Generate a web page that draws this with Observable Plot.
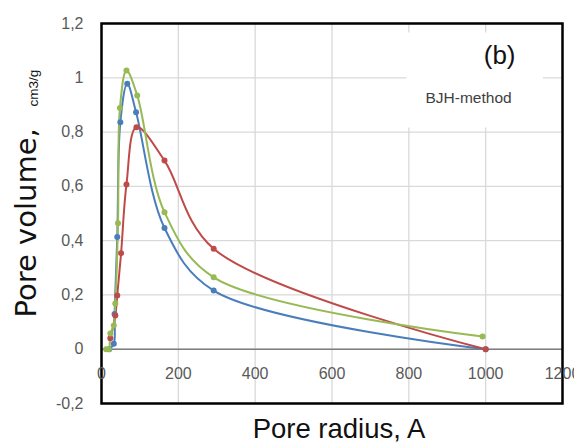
<!DOCTYPE html>
<html><head><meta charset="utf-8">
<script src="https://cdn.jsdelivr.net/npm/d3@7"></script>
<script src="https://cdn.jsdelivr.net/npm/@observablehq/plot@0.6"></script>
<style>body{margin:0;background:#fff}</style>
</head><body><div id="chart"></div>
<script>
// Pore radius (A) and pore volume (cm3/g) for the three samples
const radiusBlue = [20, 32, 34, 41, 49, 67, 90, 164, 292, 1000];
const volumeBlue = [0, 0.02, 0.13, 0.413, 0.836, 0.978, 0.873, 0.447, 0.216, 0];

const radiusRed = [23, 36, 41, 51, 65, 91, 164, 292, 1000];
const volumeRed = [0.04, 0.124, 0.198, 0.354, 0.607, 0.818, 0.695, 0.37, 0];

const radiusGreen = [12, 19, 23, 32, 36, 43, 48, 65, 93, 164, 292, 992];
const volumeGreen = [0, 0, 0.058, 0.087, 0.168, 0.464, 0.889, 1.027, 0.935, 0.505, 0.265, 0.047];

const xTicks = [0, 200, 400, 600, 800, 1000, 1200];
const yTicks = [-0.2, 0, 0.2, 0.4, 0.6, 0.8, 1, 1.2];

const seriesNames = ["Sample 1", "Sample 2", "Sample 3"];
const seriesColors = ["#4a7ebb", "#be4b48", "#98b954"];

const toRows = (xs, ys, s) => xs.map((x, i) => ({radius: x, volume: ys[i], series: s}));
const rows = [
  ...toRows(radiusBlue, volumeBlue, seriesNames[0]),
  ...toRows(radiusRed, volumeRed, seriesNames[1]),
  ...toRows(radiusGreen, volumeGreen, seriesNames[2])
];

const fmt = d => String(+d.toFixed(1)).replace(".", ",");
const sans = "'Liberation Sans', Arial, sans-serif";

const chart = Plot.plot({
  width: 574,
  height: 443,
  marginLeft: 101,
  marginRight: 12,
  marginTop: 23,
  marginBottom: 40,
  style: {fontFamily: sans, background: "white"},
  x: {domain: [0, 1200], axis: null},
  y: {domain: [-0.2, 1.2], axis: null},
  color: {domain: seriesNames, range: seriesColors},
  marks: [
    Plot.gridX(xTicks, {stroke: "#d9d9d9", strokeOpacity: 1, strokeWidth: 1.3}),
    Plot.gridY(yTicks, {stroke: "#d9d9d9", strokeOpacity: 1, strokeWidth: 1.3}),
    Plot.rect([0], {x1: 795, x2: 1150, y1: 0.815, y2: 1.165, fill: "white"}),
    Plot.ruleY([0], {stroke: "#7f7f7f", strokeWidth: 1.6}),
    Plot.line(rows, {x: "radius", y: "volume", z: "series", stroke: "series", strokeWidth: 2, curve: "catmull-rom"}),
    Plot.dot(rows, {x: "radius", y: "volume", fill: "series", r: 3}),
    Plot.frame({stroke: "#000", strokeWidth: 2.5}),
    Plot.axisY(yTicks, {tickSize: 0, tickPadding: 18, tickFormat: fmt, fontSize: 16, color: "#595959", label: null}),
    Plot.text(xTicks, {x: d => d, y: 0, dy: 25, text: d => String(d), fontSize: 16, fill: "#595959"}),
    Plot.text(["Pore radius, A"], {frameAnchor: "bottom", dx: 7, dy: 34, lineAnchor: "bottom", fontSize: 27.5, fill: "#111"}),
    Plot.text(["Pore volume,"], {frameAnchor: "left", dx: -66, dy: 104, rotate: -90, textAnchor: "start", lineAnchor: "bottom", fontSize: 29, fontFamily: "'DejaVu Sans', sans-serif", fill: "#111"}),
    Plot.text(["cm3/g"], {frameAnchor: "left", dx: -64, dy: -107, rotate: -90, textAnchor: "start", lineAnchor: "bottom", fontSize: 13.5, fill: "#111"}),
    Plot.text(["(b)"], {frameAnchor: "top-right", dx: -47, dy: 40, lineAnchor: "bottom", fontSize: 26, fill: "#111"}),
    Plot.text(["BJH-method"], {frameAnchor: "top-right", dx: -137, dy: 79, textAnchor: "start", lineAnchor: "bottom", fontSize: 15.5, fill: "#404040"})
  ]
});
document.getElementById("chart").append(chart);
</script>
</body></html>
